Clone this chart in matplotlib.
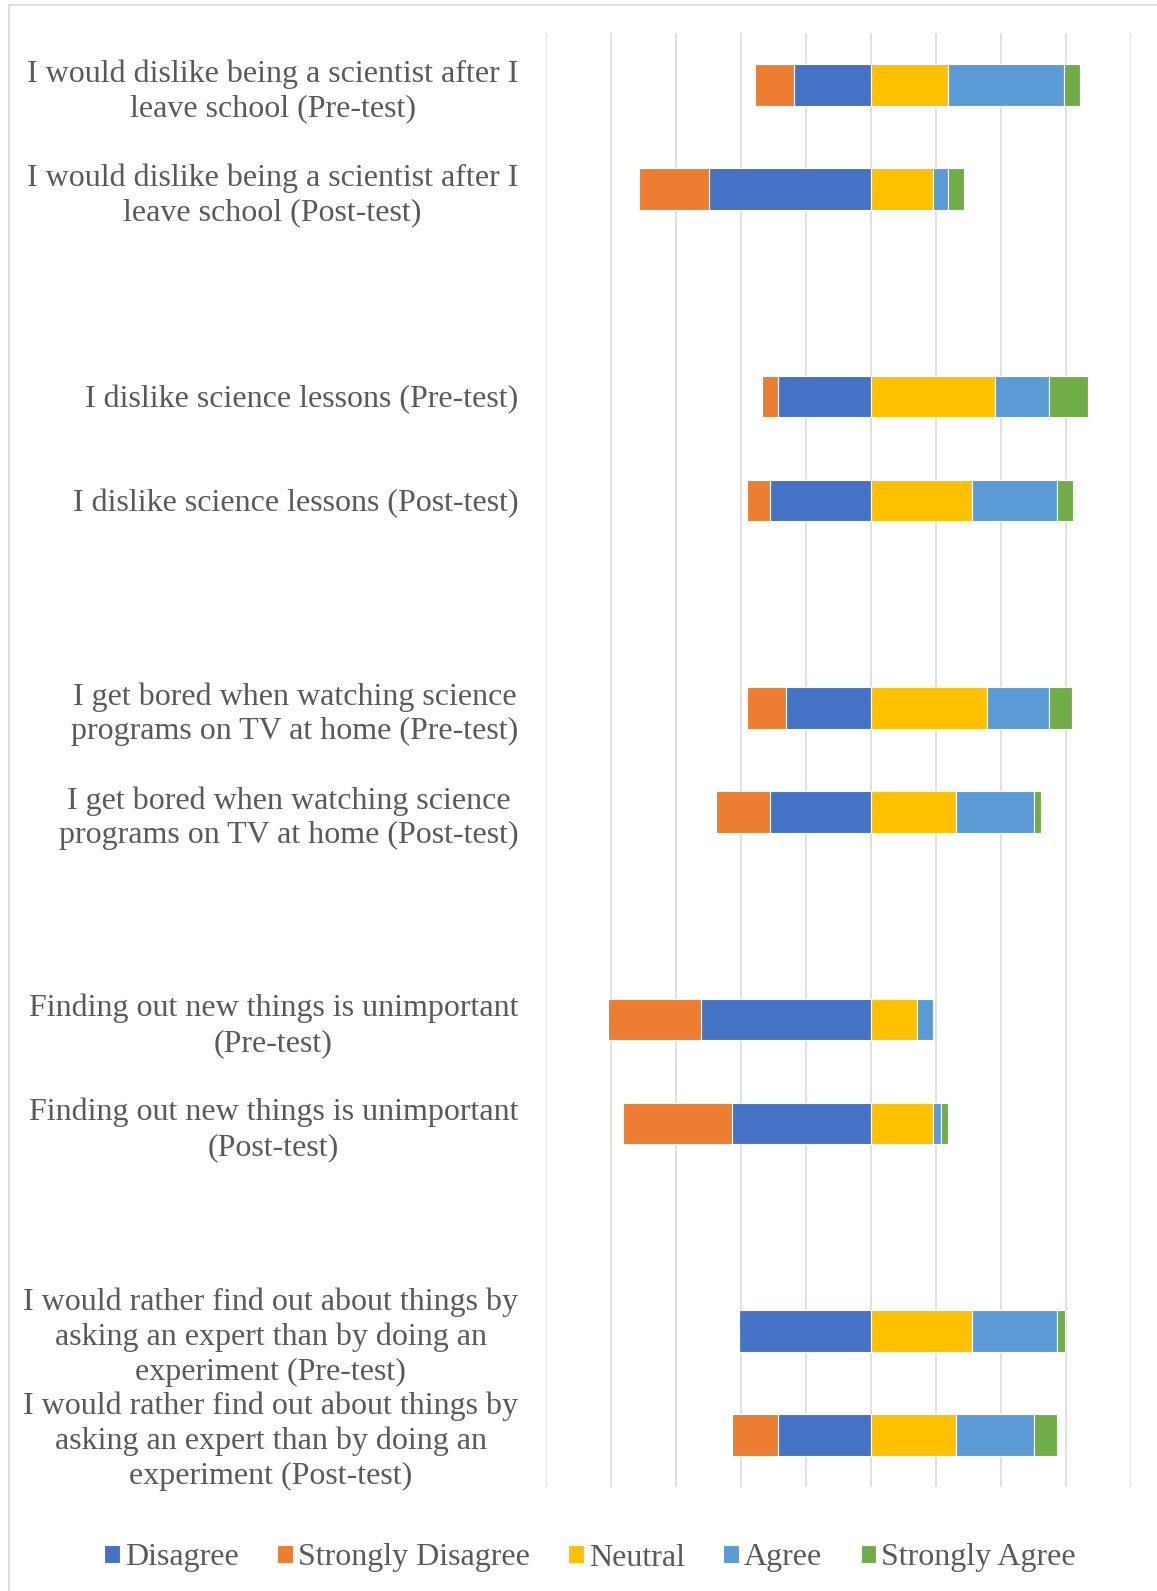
import matplotlib
matplotlib.use("Agg")
import matplotlib.pyplot as plt
from matplotlib.patches import Rectangle

# --- data (percent of respondents) ---
labels = [
    "I would dislike being a scientist after I\nleave school (Pre-test)",
    "I would dislike being a scientist after I\nleave school (Post-test)",
    "I dislike science lessons (Pre-test)",
    "I dislike science lessons (Post-test)",
    "I get bored when watching science\nprograms on TV at home (Pre-test)",
    "I get bored when watching science\nprograms on TV at home (Post-test)",
    "Finding out new things is unimportant\n(Pre-test)",
    "Finding out new things is unimportant\n(Post-test)",
    "I would rather find out about things by\nasking an expert than by doing an\nexperiment (Pre-test)",
    "I would rather find out about things by\nasking an expert than by doing an\nexperiment (Post-test)",
]
strongly_disagree = [11.9, 21.4, 4.8, 7.1, 11.9, 16.7, 28.6, 33.3, 0.0, 14.3]
disagree = [23.8, 50.0, 28.6, 31.0, 26.2, 31.0, 52.4, 42.9, 40.5, 28.6]
neutral = [23.8, 19.0, 38.1, 31.0, 35.7, 26.2, 14.3, 19.0, 31.0, 26.2]
agree = [35.7, 4.8, 16.7, 26.2, 19.0, 23.8, 4.8, 2.4, 26.2, 23.8]
strongly_agree = [4.8, 4.8, 11.9, 4.8, 7.1, 2.4, 0.0, 2.4, 2.4, 7.1]

# colours (Excel office palette)
c_dis = "#4472C4"
c_sdis = "#ED7D31"
c_neu = "#FFC000"
c_agr = "#5B9BD5"
c_sagr = "#70AD47"
txt = "#595959"

plt.rcParams['font.family'] = ['Liberation Serif', 'DejaVu Serif']

fig = plt.figure(figsize=(11.57, 15.91), dpi=100)
W, H = 1157, 1591
ax = fig.add_axes([546 / W, 1 - 1487 / H, (1131 - 546) / W, (1487 - 33) / H])

# one empty slot between each Pre/Post pair
pos = [i + i // 2 for i in range(len(labels))]
h = 0.4
ek = dict(height=h, edgecolor="white", linewidth=0.8, zorder=3)

neg_dis = [-v for v in disagree]
neg_sdis = [-v for v in strongly_disagree]
ax.barh(pos, neg_dis, color=c_dis, label="Disagree", **ek)
ax.barh(pos, neg_sdis, left=neg_dis, color=c_sdis, label="Strongly Disagree", **ek)
ax.barh(pos, neutral, color=c_neu, label="Neutral", **ek)
ax.barh(pos, agree, left=neutral, color=c_agr, label="Agree", **ek)
left_sa = [n + a for n, a in zip(neutral, agree)]
ax.barh(pos, strongly_agree, left=left_sa, color=c_sagr, label="Strongly Agree", **ek)

ax.set_xlim(-100, 80)
ax.set_xticks(range(-100, 81, 20))
ax.set_ylim(13.5, -0.5)
ax.set_yticks(pos)
ax.set_yticklabels(labels, fontsize=23, color=txt, linespacing=1.25)
for t in ax.get_yticklabels():
    t.set_multialignment("center")
ax.tick_params(axis="y", length=0, pad=20)
ax.tick_params(axis="x", length=0, labelbottom=False)
ax.grid(axis="x", color="#D9D9D9", linewidth=1.1, zorder=0)
ax.set_axisbelow(True)
for s in ax.spines.values():
    s.set_visible(False)

leg = fig.legend(loc="center", bbox_to_anchor=(0.51, 1 - 1558 / H), ncol=5,
                 frameon=False, fontsize=23, handlelength=0.5, handleheight=0.5,
                 handletextpad=0.15, columnspacing=1.2, labelcolor=txt)

# chart area border
fig.patches.append(Rectangle((8.5 / W, -0.05), 1.1, 1.05 - 4.5 / H, transform=fig.transFigure,
                             fill=False, edgecolor="#D9D9D9", linewidth=1.2))

fig.savefig("out.png", dpi=100)
